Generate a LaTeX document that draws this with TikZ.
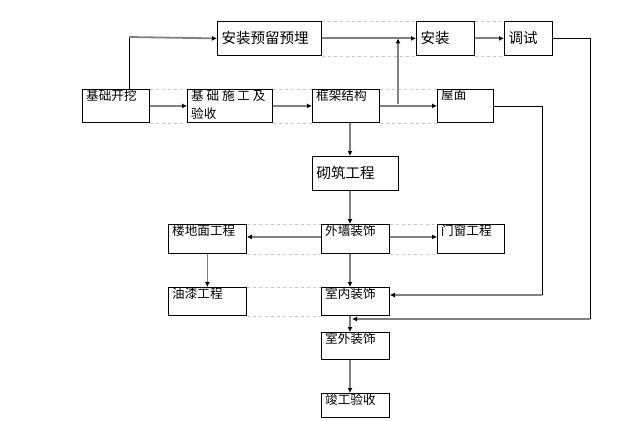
\documentclass[tikz,border=0pt]{standalone}
\usepackage{fontspec}
\usepackage{tikz}
\usetikzlibrary{arrows.meta, positioning}
\newfontfamily\cnfont{Noto Sans CJK SC}
\definecolor{gris}{RGB}{128, 128, 128}
\definecolor{grisclaro}{RGB}{200, 200, 200}
\tikzset{
    box/.style={draw, rectangle, anchor=north west, inner sep=0pt, line width=0.8pt},
    tl/.style={anchor=north west, xshift=4pt, yshift=-0.5pt, inner sep=0pt, align=left, font=\cnfont\fontsize{12.6}{18.5}\selectfont},
    ml/.style={anchor=west, xshift=4.5pt, inner sep=0pt, font=\cnfont\fontsize{14.5}{16}\selectfont},
    conn/.style={draw=gris, line width=1.8pt, -{Latex[color=black, length=5pt, width=5pt]}},
    wire/.style={draw=black, line width=0.8pt},
    guide/.style={draw=grisclaro, dashed, line width=0.5pt},
}
\begin{document}
\begin{tikzpicture}[x=1pt, y=-1pt]
    \useasboundingbox (0,0) rectangle (623,420);

    % top row
    \node[box, minimum width=104pt, minimum height=34pt, label={[ml]west:安装预留预埋}] (azyl) at (217,21) {};
    \node[box, minimum width=58pt, minimum height=34pt, label={[ml]west:安装}] (az) at (416,21) {};
    \node[box, minimum width=48pt, minimum height=34pt, label={[ml]west:调试}] (ts) at (504,21) {};

    % second row
    \node[box, minimum width=67pt, minimum height=33pt, label={[tl]north west:基础开挖}] (jckw) at (82,89) {};
    \node[box, minimum width=85pt, minimum height=33pt, label={[tl]north west:基 础 施 工 及\\验收}] (jcsg) at (187,89) {};
    \node[box, minimum width=67pt, minimum height=33pt, label={[tl]north west:框架结构}] (kjjg) at (312,89) {};
    \node[box, minimum width=56pt, minimum height=33pt, label={[tl]north west:屋面}] (wm) at (437,89) {};

    \node[box, minimum width=86pt, minimum height=34pt, label={[ml]west:砌筑工程}] (qz) at (312,156) {};

    \node[box, minimum width=78pt, minimum height=29pt, label={[tl]north west:楼地面工程}] (ldm) at (168,224) {};
    \node[box, minimum width=68pt, minimum height=29pt, label={[tl]north west:外墙装饰}] (wq) at (321,224) {};
    \node[box, minimum width=67pt, minimum height=29pt, label={[tl]north west:门窗工程}] (mc) at (437,224) {};

    \node[box, minimum width=78pt, minimum height=28pt, label={[tl]north west:油漆工程}] (yq) at (168,287) {};
    \node[box, minimum width=68pt, minimum height=28pt, label={[tl]north west:室内装饰}] (sn) at (321,287) {};

    \node[box, minimum width=68pt, minimum height=27pt, label={[tl]north west:室外装饰}] (sw) at (321,332) {};
    \node[box, minimum width=68pt, minimum height=24pt, label={[tl]north west:竣工验收}] (jg) at (321,393) {};

    % dashed guides between boxes
    \foreach \a/\b in {azyl/az, az/ts, jckw/jcsg, jcsg/kjjg, kjjg/wm, ldm/wq, wq/mc, yq/sn} {
        \draw[guide] (\a.north east) -- (\b.north west);
        \draw[guide] (\a.south east) -- (\b.south west);
    }

    \coordinate (c1) at (129,37);
    \coordinate (c2) at (398,104);
    \coordinate (c3) at (590,319);
    \coordinate (c4) at (352,319);
    \coordinate (c5) at (542,295);
    \coordinate (ax) at (350,0);

    \draw[wire] (c1 |- jckw.north) -- (c1);
    \draw[conn] (c1) -- (azyl.west);
    \draw[conn] (azyl.east) -- (az.west);
    \draw[conn] (az.east) -- (ts.west);

    \draw[conn] (jckw.east) -- (jcsg.west);
    \draw[conn] (jcsg.east) -- (kjjg.west);
    \draw[conn] (kjjg.east) -- (wm.west);
    \draw[conn] (c2) -- (c2 |- azyl.east);

    \draw[conn] (kjjg.south -| ax) -- (qz.north -| ax);
    \draw[conn] (qz.south -| ax) -- (wq.north -| ax);
    \draw[conn] ([yshift=2pt]wq.west) -- ([yshift=2pt]ldm.east);
    \draw[conn] ([yshift=2pt]wq.east) -- ([yshift=2pt]mc.west);
    \draw[conn] (ldm.south) -- (yq.north);
    \draw[conn] (wq.south -| ax) -- (sn.north -| ax);
    \draw[conn] (sn.south -| ax) -- (sw.north -| ax);
    \draw[conn] (sw.south -| ax) -- (jg.north -| ax);

    \draw[wire] (wm.east) -| (c5);
    \draw[conn] (c5) -- (sn.east |- c5);
    \draw[wire] (ts.east) -| (c3);
    \draw[conn] (c3) -- (c4);
\end{tikzpicture}
\end{document}
